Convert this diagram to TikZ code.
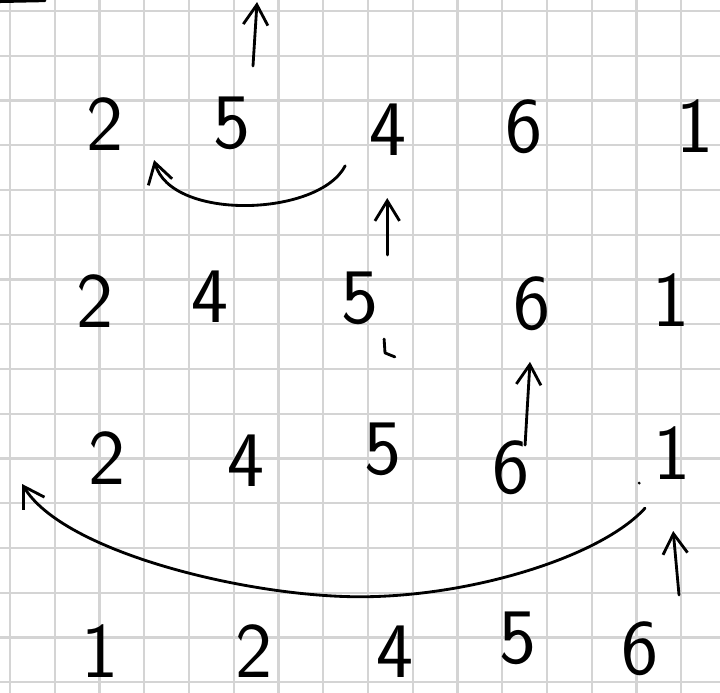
\documentclass[tikz,border=0pt]{standalone}
\usetikzlibrary{arrows.meta}
\tikzset{
  gridline/.style={draw=black!17, line width=1.3pt},
  ink/.style={line width=1.8pt, line cap=round, line join=round},
  arr/.style={ink, -{Straight Barb[length=4.5mm,width=5.5mm]}},
  digit/.style={font=\sffamily\fontsize{50}{50}\selectfont, inner sep=0pt},
}
\begin{document}
\begin{tikzpicture}
  \useasboundingbox (-0.2235,0.2458) rectangle (15.866,-15.24);
  \fill[white] (-0.2235,0.2458) rectangle (15.866,-15.24);
  \draw[gridline] (-0.2235,0.2458) grid (15.866,-15.24);
  \draw[ink] (-0.2235,0.21) -- (0.78,0.23);
  % row 1
  \node[digit] (r1a) at (2.12,-2.53) {2};
  \node[digit] (r1b) at (4.96,-2.50) {5};
  \node[digit] (r1c) at (8.45,-2.66) {4};
  \node[digit] (r1d) at (11.49,-2.59) {6};
  \node[digit] (r1e) at (15.31,-2.57) {1};
  % row 2
  \node[digit] (r2a) at (1.90,-6.48) {2};
  \node[digit] (r2b) at (4.47,-6.39) {4};
  \node[digit] (r2c) at (7.82,-6.41) {5};
  \node[digit] (r2d) at (11.66,-6.53) {6};
  \node[digit] (r2e) at (14.77,-6.46) {1};
  % row 3
  \node[digit] (r3a) at (2.17,-9.99) {2};
  \node[digit] (r3b) at (5.27,-10.06) {4};
  \node[digit] (r3c) at (8.34,-9.79) {5};
  \node[digit] (r3d) at (11.20,-10.21) {6};
  \node[digit] (r3e) at (14.79,-9.88) {1};
  % row 4
  \node[digit] (r4a) at (2.01,-14.30) {1};
  \node[digit] (r4b) at (5.45,-14.30) {2};
  \node[digit] (r4c) at (8.60,-14.32) {4};
  \node[digit] (r4d) at (11.35,-14.01) {5};
  \node[digit] (r4e) at (14.08,-14.26) {6};
  % arrow ends
  \coordinate (up1s) at (5.43,-1.23);
  \coordinate (up1e) at (5.52,0.20);
  \coordinate (sw1s) at (7.49,-3.46);
  \coordinate (sw1e) at (3.22,-3.33);
  \coordinate (up2s) at (8.43,-5.45);
  \coordinate (up2e) at (8.43,-4.18);
  \coordinate (up3s) at (11.51,-9.70);
  \coordinate (up3e) at (11.62,-7.84);
  \coordinate (sw2s) at (14.19,-11.11);
  \coordinate (sw2m) at (7.82,-13.09);
  \coordinate (sw2e) at (0.27,-10.57);
  \coordinate (up4s) at (14.95,-13.05);
  \coordinate (up4e) at (14.82,-11.62);
  % arrows
  \draw[arr] (up1s) -- (up1e);
  \draw[arr] (sw1s) .. controls (6.9,-4.6) and (3.6,-4.7) .. (sw1e);
  \draw[arr] (up2s) -- (up2e);
  \draw[arr] (up3s) -- (up3e);
  \draw[arr] (sw2s) .. controls (13.2,-12.2) and (10.3,-13.09) .. (sw2m)
    .. controls (5.32,-13.09) and (1.2,-12.1) .. (sw2e);
  \draw[arr] (up4s) -- (up4e);
  % stray marks
  \draw[ink] (8.36,-7.33) -- (8.38,-7.64) -- (8.60,-7.73);
  \fill (14.06,-10.55) circle (0.035);
\end{tikzpicture}
\end{document}
